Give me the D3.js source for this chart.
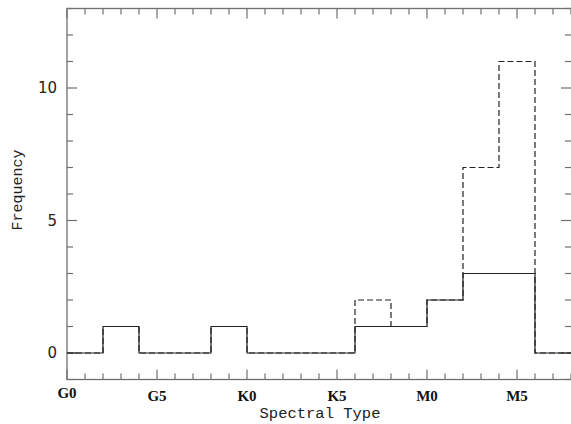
<!DOCTYPE html>
<html>
<head>
<meta charset="utf-8">
<script src="https://cdn.jsdelivr.net/npm/d3@7"></script>
<style>
  body { margin: 0; background: #fff; }
  svg { display: block; }
</style>
</head>
<body>
<svg width="571" height="424"></svg>
<script>
// bins are 2 subtypes wide, G0 = 0, G5 = 5, K0 = 10, K5 = 15, M0 = 20, M5 = 25
binEdges = [0, 2, 4, 6, 8, 10, 12, 14, 16, 18, 20, 22, 24, 26, 28];
solidCounts = [0, 1, 0, 0, 1, 0, 0, 0, 1, 1, 2, 3, 3, 0];
dashedCounts = [0, 1, 0, 0, 1, 0, 0, 0, 2, 1, 2, 7, 11, 0];
xTickValues = [0, 5, 10, 15, 20, 25];
xTickLabels = ["G0", "G5", "K0", "K5", "M0", "M5"];
yTickValues = [0, 5, 10];

const svg = d3.select("svg");
const plotLeft = 67, plotRight = 571, plotTop = 8.5, plotBottom = 379.5;

const x = d3.scaleLinear().domain([0, 28]).range([plotLeft, plotRight]);
const y = d3.scaleLinear().domain([-1, 13]).range([plotBottom, plotTop]);

const axisColor = "#707070";

// frame
svg.append("rect")
  .attr("x", plotLeft)
  .attr("y", plotTop)
  .attr("width", plotRight - plotLeft + 1)
  .attr("height", plotBottom - plotTop)
  .style("fill", "none")
  .style("stroke", axisColor)
  .style("stroke-width", 1.3);

// minor + major ticks on all four sides, pointing inward
const xMinor = d3.range(0, 29, 1);
const yMinor = d3.range(-1, 14, 1);

svg.selectAll("xTicks")
  .data(xMinor)
  .enter()
  .append("g")
  .each(function (d) {
    const len = d % 5 === 0 ? 10 : 6;
    const g = d3.select(this);
    g.append("line")
      .attr("x1", x(d)).attr("x2", x(d))
      .attr("y1", plotBottom).attr("y2", plotBottom - len);
    g.append("line")
      .attr("x1", x(d)).attr("x2", x(d))
      .attr("y1", plotTop).attr("y2", plotTop + len);
  })
  .selectAll("line")
  .style("stroke", axisColor)
  .style("stroke-width", 1.2);

svg.selectAll("yTicks")
  .data(yMinor)
  .enter()
  .append("g")
  .each(function (d) {
    const len = d % 5 === 0 ? 10 : 6;
    const g = d3.select(this);
    g.append("line")
      .attr("x1", plotLeft).attr("x2", plotLeft + len)
      .attr("y1", y(d)).attr("y2", y(d));
    g.append("line")
      .attr("x1", plotRight).attr("x2", plotRight - len)
      .attr("y1", y(d)).attr("y2", y(d));
  })
  .selectAll("line")
  .style("stroke", axisColor)
  .style("stroke-width", 1.2);

// tick labels
svg.selectAll("yLabels")
  .data(yTickValues)
  .enter()
  .append("text")
  .attr("x", 57)
  .attr("y", d => y(d))
  .attr("dy", "0.36em")
  .attr("text-anchor", "end")
  .style("font-family", "DejaVu Sans, sans-serif")
  .style("font-size", "15px")
  .style("fill", "#222")
  .text(d => d);

svg.selectAll("xLabels")
  .data(xTickValues)
  .enter()
  .append("text")
  .attr("x", d => x(d))
  .attr("y", d => d === 0 ? 398 : 401)
  .attr("text-anchor", "middle")
  .style("font-family", "Liberation Serif, serif")
  .style("font-weight", "bold")
  .style("font-size", "15px")
  .style("fill", "#111")
  .text((d, i) => xTickLabels[i]);

// axis titles
svg.append("text")
  .attr("x", 320)
  .attr("y", 418)
  .attr("text-anchor", "middle")
  .style("font-family", "Liberation Mono, monospace")
  .style("font-size", "15.5px")
  .style("fill", "#222")
  .text("Spectral Type");

svg.append("text")
  .attr("transform", "translate(22,190) rotate(-90)")
  .attr("text-anchor", "middle")
  .style("font-family", "Liberation Mono, monospace")
  .style("font-size", "15px")
  .style("fill", "#222")
  .text("Frequency");

// histograms
const step = d3.line()
  .x(d => x(d[0]))
  .y(d => y(d[1]))
  .curve(d3.curveStepAfter);

function pts(counts) {
  const p = counts.map((c, i) => [binEdges[i], c]);
  p.push([binEdges[binEdges.length - 1], counts[counts.length - 1]]);
  return p;
}

svg.append("path")
  .attr("d", step(pts(dashedCounts)))
  .style("fill", "none")
  .style("stroke", "#222")
  .style("stroke-width", 1.2)
  .style("stroke-dasharray", "6,3");

svg.append("path")
  .attr("d", step(pts(solidCounts)))
  .style("fill", "none")
  .style("stroke", "#222")
  .style("stroke-width", 1.2);
</script>
</body>
</html>
